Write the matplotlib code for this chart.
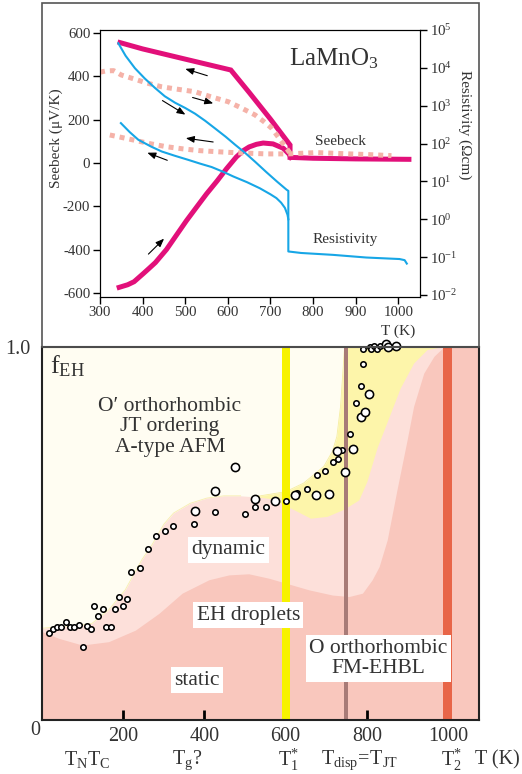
import matplotlib
matplotlib.use('Agg')
import matplotlib.pyplot as plt
from matplotlib.patches import Rectangle
import matplotlib.transforms as mtrans

plt.rcParams['font.family'] = ['Liberation Serif', 'DejaVu Serif']
plt.rcParams['mathtext.fontset'] = 'custom'
plt.rcParams['mathtext.rm'] = 'Liberation Serif'
plt.rcParams['mathtext.it'] = 'Liberation Serif:italic'
plt.rcParams['mathtext.bf'] = 'Liberation Serif:bold'

TXT = '#333333'

# ---- top panel: Seebeck (left axis) and resistivity (right axis, log) ----
# Seebeck, cooling branch (thick magenta)
T_seeb_cool = [1025, 900, 800, 746, 746, 700, 650, 607, 500, 400, 347]
S_seeb_cool = [17, 19, 22, 26, 83, 202, 325, 428, 478, 525, 554]
# Seebeck, heating branch from low T
T_seeb_heat = [345, 365, 380, 402, 415, 430, 456, 480, 503, 527, 550, 575, 597, 620, 637, 650, 667, 683, 706,
               730, 744, 748]
S_seeb_heat = [-572, -560, -546, -508, -485, -458, -398, -330, -265, -202, -142, -82, -26, 28, 58, 74, 86, 92, 88,
               68, 40, 26]
# Seebeck, other data sets (pale dotted)
T_dot_up = [300, 315, 332, 350, 378, 410, 444, 480, 523, 560, 601, 630, 664, 685, 703, 720, 735, 745]
S_dot_up = [418, 424, 425, 405, 388, 368, 351, 340, 328, 305, 282, 255, 221, 190, 160, 115, 75, 48]
T_dot_low = [323, 350, 378, 420, 456, 495, 534, 575, 613, 650, 691, 742, 808, 886, 940, 984]
S_dot_low = [129, 118, 106, 88, 75, 65, 57, 52, 48, 45, 42, 42, 48, 42, 38, 34]
# Resistivity (log10 of Ohm cm)
T_res_up = [343, 360, 382, 405, 429, 452, 476, 500, 523, 547, 570, 595, 617, 640, 664, 690, 715, 738, 742, 742,
            772, 847, 925, 1003, 1015, 1020]
logR_up = [4.65, 4.32, 3.99, 3.72, 3.47, 3.25, 3.08, 2.94, 2.79, 2.6, 2.4, 2.18, 1.97, 1.76, 1.52, 1.25, 1.0, 0.78,
           0.75, -0.85, -0.89, -0.94, -1.01, -1.05, -1.08, -1.17]
T_res_low = [349, 370, 390, 420, 445, 475, 507, 535, 562, 590, 613, 645, 675, 700, 714, 725, 734, 740, 742]
logR_low = [2.54, 2.3, 2.1, 1.92, 1.79, 1.68, 1.57, 1.47, 1.38, 1.25, 1.13, 0.98, 0.82, 0.66, 0.56, 0.44, 0.30,
            0.12, 0.0]

# arrows (tail T, tail S, head T, head S)
arrows = [(558, 398, 494, 437), (511, 305, 572, 271), (441, 294, 506, 216),
          (572, 95, 495, 116), (464, 8, 405, 52), (409, -428, 455, -339)]

# ---- bottom panel: f_EH vs T ----
T_small = [17, 28, 38, 48, 58, 69, 79, 90, 100, 110, 120, 129, 139, 150, 158, 170, 180, 190, 200, 210, 219, 242,
           260, 280, 302, 323, 374, 425, 501, 525, 551, 601, 628, 652, 677, 697, 717, 729, 739, 759, 774, 786,
           790, 790, 807, 810, 817, 825, 833]
f_small = [0.233, 0.245, 0.25, 0.249, 0.263, 0.249, 0.249, 0.254, 0.196, 0.252, 0.243, 0.306, 0.279, 0.297, 0.248,
           0.248, 0.297, 0.329, 0.306, 0.324, 0.398, 0.407, 0.459, 0.494, 0.507, 0.521, 0.525, 0.557, 0.552, 0.570,
           0.572, 0.587, 0.608, 0.618, 0.657, 0.667, 0.693, 0.700, 0.725, 0.768, 0.849, 0.896, 0.955, 0.995, 1.0,
           0.995, 1.002, 0.995, 1.002]
T_large = [376, 426, 474, 525, 574, 624, 675, 706, 726, 745, 766, 786, 796, 805, 846, 851, 871]
f_large = [0.560, 0.613, 0.677, 0.592, 0.588, 0.604, 0.603, 0.607, 0.722, 0.665, 0.726, 0.811, 0.826, 0.875,
           1.007, 1.0, 1.004]

# region boundaries
T_static = [0, 41, 99, 164, 230, 288, 345, 411, 460, 509, 559, 600, 657, 715, 756, 789, 813, 830, 850, 874, 899,
            915, 940, 965, 989, 1076]
f_static = [0.237, 0.219, 0.201, 0.210, 0.241, 0.286, 0.34, 0.376, 0.389, 0.392, 0.380, 0.367, 0.349, 0.335,
            0.331, 0.34, 0.376, 0.411, 0.483, 0.617, 0.751, 0.841, 0.93, 0.975, 1.0, 1.0]
T_dyn = [0, 41, 99, 123, 164, 205, 246, 271, 300, 324, 365, 406, 448, 489, 529, 560, 600, 636, 661, 702, 743, 780,
         800, 825, 850, 882, 915, 948, 981, 1076]
f_dyn = [0.246, 0.25, 0.255, 0.259, 0.295, 0.349, 0.43, 0.47, 0.525, 0.555, 0.581, 0.595, 0.601, 0.601, 0.598,
         0.594, 0.575, 0.555, 0.541, 0.546, 0.565, 0.59, 0.64, 0.73, 0.8, 0.89, 0.957, 0.993, 1.0, 1.0]
T_yel = [520, 560, 600, 644, 694, 715, 726, 735, 740, 745, 1076]
f_yel = [0.598, 0.605, 0.612, 0.635, 0.68, 0.72, 0.76, 0.84, 0.92, 1.0, 1.0]

bars = [(590, 610, '#f7f200'), (743, 753, '#a87b77'), (988, 1010, '#e86548')]

fig = plt.figure(figsize=(5.22, 7.74), dpi=100)
W, H = 522, 774

# frame around top panel
fig.add_artist(Rectangle((42 / W, 1 - 347 / H), 437 / W, 344 / H, transform=fig.transFigure,
                         fill=False, ec='#555555', lw=1.2))

ax = fig.add_axes([100 / W, 1 - 296.7 / H, 320 / W, 266.7 / H])
ax.set_xlim(300, 1051)
ax.set_ylim(-615, 612)
ax.plot(T_dot_up, S_dot_up, color='#f5b2a8', lw=3.6, ls=(0, (1, 1)), dash_capstyle='butt', zorder=3)
ax.plot(T_dot_low, S_dot_low, color='#f5b2a8', lw=3.6, ls=(0, (1, 1)), dash_capstyle='butt', zorder=3)
ax.plot(T_seeb_cool, S_seeb_cool, color='#e2107a', lw=3.6, solid_joinstyle='miter', zorder=2)
ax.plot(T_seeb_heat, S_seeb_heat, color='#e2107a', lw=3.6, zorder=2)
for t0, s0, t1, s1 in arrows:
    ax.annotate('', xy=(t1, s1), xytext=(t0, s0),
                arrowprops=dict(arrowstyle='-|>,head_length=0.5,head_width=0.2', color='k', lw=0.8))
ax.set_yticks(range(-600, 601, 200))
ax.set_yticklabels([str(v) for v in range(-600, 601, 200)])
ax.set_xticks(range(300, 1001, 100))
ax.tick_params(direction='out', length=5, width=1, labelsize=10.7, labelcolor=TXT, pad=2)
ax.set_ylabel('Seebeck (\u03bcV/K)', fontsize=11, color=TXT)
ax.yaxis.set_label_coords(-0.115, 0.595)
ax.text(1000, -0.13, 'T (K)', transform=mtrans.blended_transform_factory(ax.transData, ax.transAxes),
        ha='center', va='center', fontsize=11, color=TXT)
ax.text(849, 482, 'LaMnO$_3$', ha='center', va='center', fontsize=18, color=TXT)
ax.text(865, 98, 'Seebeck', ha='center', va='center', fontsize=11, color=TXT)
ax.text(875, -354, 'Resistivity', ha='center', va='center', fontsize=11, color=TXT)

ax2 = ax.twinx()
ax2.set_yscale('log')
ax2.set_ylim(10 ** -2.045, 1e5)
ax2.plot(T_res_up, [10 ** v for v in logR_up], color='#17a6e6', lw=1.5)
ax2.plot(T_res_low, [10 ** v for v in logR_low], color='#17a6e6', lw=1.5)
dec = list(range(-2, 6))
ax2.set_yticks([10.0 ** d for d in dec])
ax2.set_yticklabels(['$10^{%d}$' % d for d in dec])
ax2.minorticks_off()
ax2.tick_params(direction='out', length=5, width=1, labelsize=10.7, labelcolor=TXT, pad=2)
ax2.set_ylabel('Resistivity (\u03a9cm)', fontsize=11, color=TXT, rotation=270, va='bottom')
ax2.yaxis.set_label_coords(1.12, 0.644)

# ---- bottom panel ----
axb = fig.add_axes([42 / W, 54 / H, 437 / W, 373 / H])
axb.set_xlim(0, 1076)
axb.set_ylim(0, 1)
axb.set_facecolor('#fffdf2')
axb.fill_between(T_yel, 0, f_yel, color='#fdf5aa', lw=0, zorder=1)
axb.plot(T_yel, f_yel, color='#f6eea0', lw=0.6, zorder=1)
axb.fill_between(T_dyn, 0, f_dyn, color='#fde0da', lw=0, zorder=1)
axb.plot(T_dyn[:14], f_dyn[:14], color='#f8eeb0', lw=0.6, zorder=1)
axb.fill_between(T_static, 0, f_static, color='#f9c7bd', lw=0, zorder=1)
for t0, t1, c in bars:
    axb.axvspan(t0, t1, color=c, lw=0, zorder=2)

axb.plot(T_small, f_small, 'o', ms=3.9, mfc='white', mec='black', mew=1.15, zorder=6, clip_on=False)
axb.plot(T_large, f_large, 'o', ms=5.9, mfc='white', mec='black', mew=1.15, zorder=6, clip_on=False)

box = dict(boxstyle='square,pad=0.15', fc='white', ec='none')
axb.text(315, 0.786, 'O\u2032 orthorhombic\nJT ordering\nA-type AFM', ha='center', va='center',
         fontsize=15.5, color=TXT, linespacing=1.12, zorder=4)
axb.text(459, 0.456, 'dynamic', ha='center', va='center', fontsize=15.5, color=TXT, bbox=box, zorder=4)
axb.text(508, 0.281, 'EH droplets', ha='center', va='center', fontsize=15.5, color=TXT, bbox=box, zorder=4)
axb.text(828, 0.165, 'O orthorhombic\nFM-EHBL', ha='center', va='center', fontsize=15.5, color=TXT,
         linespacing=1.12, bbox=box, zorder=4)
axb.text(381, 0.107, 'static', ha='center', va='center', fontsize=15.5, color=TXT, bbox=box, zorder=4)
axb.text(0.018, 0.93, 'f$_\\mathrm{EH}$', transform=axb.transAxes, ha='left', va='baseline',
         fontsize=19, color=TXT, zorder=4)

axb.set_xticks([200, 400, 600, 800, 1000])
axb.set_xticklabels(['200', '400', '600', '800', '1000'])
axb.set_yticks([1.0])
axb.set_yticklabels(['1.0'])
axb.tick_params(axis='x', direction='in', length=7, width=2, labelsize=14.5, labelcolor=TXT, pad=5)
axb.tick_params(axis='y', length=0, labelsize=14.5, labelcolor=TXT, pad=8)
for sp in axb.spines.values():
    sp.set_linewidth(1.5)
    sp.set_color('#222222')
    sp.set_zorder(7)
axb.text(-0.016, -0.027, '0', transform=axb.transAxes, ha='center', va='center', fontsize=14.5, color=TXT)

trb = mtrans.blended_transform_factory(axb.transData, axb.transAxes)
under = [(111, '$\\mathrm{T_{N}T_{C}}$'), (357, '$\\mathrm{T_{g}?}$'), (606, '$\\mathrm{T_{1}^{*}}$'),
         (783, '$\\mathrm{T_{disp}\\!=\\!T_{JT}}$'), (1009, '$\\mathrm{T_{2}^{*}}$'), (1121, 'T (K)')]
for t, s in under:
    axb.text(t, -0.107, s, transform=trb, ha='center', va='center', fontsize=14.5, color=TXT, clip_on=False)

fig.savefig('out.png', dpi=100)
